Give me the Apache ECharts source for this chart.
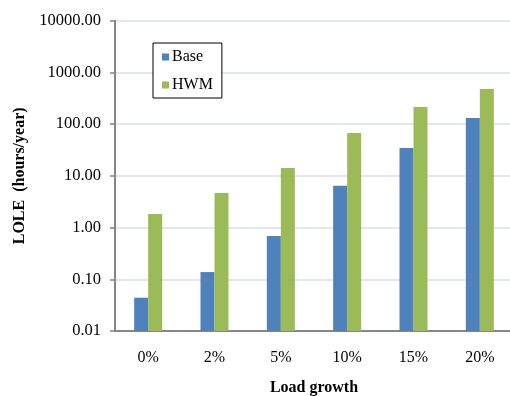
<!DOCTYPE html>
<html>
<head>
<meta charset="utf-8">
<script src="https://cdn.jsdelivr.net/npm/echarts@6/dist/echarts.min.js"></script>
<style>
  html, body { margin: 0; padding: 0; background: #fff; }
  #chart { width: 510px; height: 396px; }
</style>
</head>
<body>
<div id="chart"></div>
<script>
// Load growth scenarios and loss-of-load expectation (hours/year)
const categories = ['0%', '2%', '5%', '10%', '15%', '20%'];
const baseValues = [0.044, 0.138, 0.69, 6.4, 34.7, 132];
const hwmValues = [1.83, 4.67, 14.2, 67.6, 215, 479];
const seriesNames = ['Base', 'HWM'];
const seriesColors = ['#4f81bd', '#9bbb59'];

const axisMin = 0.01;
const axisMax = 10000;
const barWidth = 14;

const serif = '"Liberation Serif", "DejaVu Serif", serif';

// Bars on a log axis rise from the axis floor rather than from 1,
// so each bar is drawn as a rect between the floor and its value.
function barRenderer(side) {
  return function (params, api) {
    const idx = api.value(0);
    const val = api.value(1);
    const top = api.coord([idx, val]);
    const floor = api.coord([idx, axisMin]);
    const x = side === 0 ? top[0] - barWidth : top[0];
    return {
      type: 'rect',
      shape: { x: x, y: top[1], width: barWidth, height: floor[1] - top[1] },
      style: { fill: seriesColors[side] }
    };
  };
}

const chart = echarts.init(document.getElementById('chart'), null, { renderer: 'canvas' });

chart.setOption({
  animation: false,
  backgroundColor: '#ffffff',
  grid: {
    left: 115, top: 20.7, width: 398, bottom: 65,
    containLabel: false, outerBoundsMode: 'none'
  },
  legend: {
    orient: 'vertical',
    left: 153,
    top: 43,
    data: seriesNames,
    icon: 'rect',
    itemWidth: 7,
    itemHeight: 7,
    itemGap: 12,
    padding: [6, 9, 5, 9],
    borderColor: '#000',
    borderWidth: 1,
    backgroundColor: '#fff',
    textStyle: { fontFamily: serif, fontSize: 16, color: '#000', padding: [0, 0, 0, -2] }
  },
  xAxis: {
    type: 'category',
    data: categories,
    name: 'Load growth',
    nameLocation: 'middle',
    nameGap: 49,
    nameTextStyle: { fontFamily: serif, fontSize: 16, fontWeight: 'bold', color: '#000' },
    axisLine: { lineStyle: { color: '#868686', width: 2 } },
    axisTick: { show: false },
    axisLabel: { fontFamily: serif, fontSize: 16, color: '#000', margin: 19 }
  },
  yAxis: {
    type: 'log',
    logBase: 10,
    min: axisMin,
    max: axisMax,
    name: 'LOLE  (hours/year)',
    nameLocation: 'middle',
    nameGap: 87,
    nameTextStyle: { fontFamily: serif, fontSize: 16, fontWeight: 'bold', color: '#000' },
    axisLine: { show: true, lineStyle: { color: '#868686', width: 2 } },
    axisTick: { show: true, length: 5, lineStyle: { color: '#868686', width: 1.5 } },
    axisLabel: {
      fontFamily: serif, fontSize: 16.5, color: '#000', margin: 14,
      formatter: v => Number(v).toFixed(2)
    },
    splitLine: { show: true, lineStyle: { color: '#d8dfec', width: 1.6 } }
  },
  series: [
    {
      name: seriesNames[0],
      type: 'custom',
      renderItem: barRenderer(0),
      encode: { x: 0, y: 1 },
      itemStyle: { color: seriesColors[0] },
      data: baseValues.map((v, i) => [i, v])
    },
    {
      name: seriesNames[1],
      type: 'custom',
      renderItem: barRenderer(1),
      encode: { x: 0, y: 1 },
      itemStyle: { color: seriesColors[1] },
      data: hwmValues.map((v, i) => [i, v])
    }
  ]
});
</script>
</body>
</html>
